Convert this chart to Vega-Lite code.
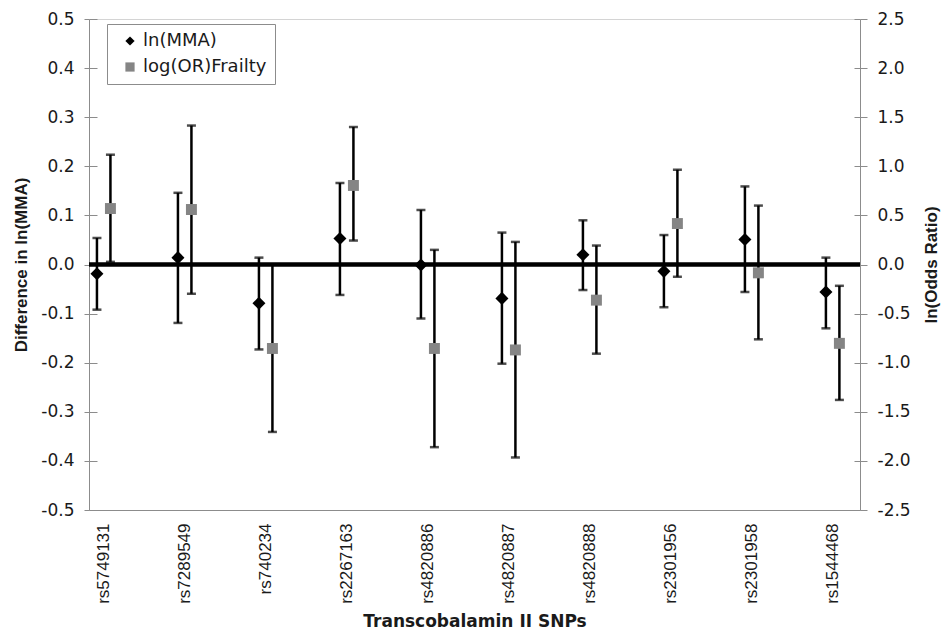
{
  "$schema": "https://vega.github.io/schema/vega-lite/v6.json",
  "width": 771,
  "height": 491,
  "autosize": {"type": "none"},
  "padding": {"left": 89, "top": 19, "right": 83, "bottom": 127},
  "background": "white",
  "config": {
    "font": "Liberation Sans",
    "view": {"stroke": "#d4d4d4", "strokeWidth": 1},
    "axis": {
      "labelFont": "DejaVu Sans",
      "titleFont": "Liberation Sans",
      "labelFontSize": 17,
      "titleFontSize": 17,
      "titleFontWeight": "bold",
      "labelColor": "#1a1a1a",
      "titleColor": "#1a1a1a",
      "domainColor": "#8c8c8c",
      "tickColor": "#8c8c8c",
      "grid": false
    },
    "axisX": {"labelFont": "Liberation Sans", "titleFont": "DejaVu Sans"},
    "legend": {
      "labelFont": "DejaVu Sans",
      "labelFontSize": 18,
      "labelColor": "#1a1a1a"
    }
  },
  "data": {
    "values": [
      {"snp": "rs5749131", "series": "ln(MMA)", "est": -0.019, "lo": -0.092, "hi": 0.054},
      {"snp": "rs7289549", "series": "ln(MMA)", "est": 0.014, "lo": -0.119, "hi": 0.146},
      {"snp": "rs740234", "series": "ln(MMA)", "est": -0.079, "lo": -0.173, "hi": 0.014},
      {"snp": "rs2267163", "series": "ln(MMA)", "est": 0.053, "lo": -0.062, "hi": 0.166},
      {"snp": "rs4820886", "series": "ln(MMA)", "est": -0.001, "lo": -0.110, "hi": 0.111},
      {"snp": "rs4820887", "series": "ln(MMA)", "est": -0.069, "lo": -0.202, "hi": 0.065},
      {"snp": "rs4820888", "series": "ln(MMA)", "est": 0.020, "lo": -0.052, "hi": 0.090},
      {"snp": "rs2301956", "series": "ln(MMA)", "est": -0.014, "lo": -0.087, "hi": 0.060},
      {"snp": "rs2301958", "series": "ln(MMA)", "est": 0.051, "lo": -0.056, "hi": 0.159},
      {"snp": "rs1544468", "series": "ln(MMA)", "est": -0.056, "lo": -0.130, "hi": 0.014},
      {"snp": "rs5749131", "series": "log(OR)Frailty", "est": 0.57, "lo": 0.027, "hi": 1.118},
      {"snp": "rs7289549", "series": "log(OR)Frailty", "est": 0.56, "lo": -0.298, "hi": 1.415},
      {"snp": "rs740234", "series": "log(OR)Frailty", "est": -0.855, "lo": -1.705, "hi": 0.0},
      {"snp": "rs2267163", "series": "log(OR)Frailty", "est": 0.805, "lo": 0.244, "hi": 1.40},
      {"snp": "rs4820886", "series": "log(OR)Frailty", "est": -0.855, "lo": -1.86, "hi": 0.149},
      {"snp": "rs4820887", "series": "log(OR)Frailty", "est": -0.87, "lo": -1.965, "hi": 0.23},
      {"snp": "rs4820888", "series": "log(OR)Frailty", "est": -0.363, "lo": -0.908, "hi": 0.193},
      {"snp": "rs2301956", "series": "log(OR)Frailty", "est": 0.417, "lo": -0.125, "hi": 0.965},
      {"snp": "rs2301958", "series": "log(OR)Frailty", "est": -0.085, "lo": -0.762, "hi": 0.60},
      {"snp": "rs1544468", "series": "log(OR)Frailty", "est": -0.803, "lo": -1.379, "hi": -0.217}
    ]
  },
  "layer": [
    {
      "data": {"values": [{"z": 0}]},
      "mark": {"type": "rule", "color": "black", "strokeWidth": 4},
      "encoding": {
        "y": {"field": "z", "type": "quantitative", "scale": {"domain": [-0.5, 0.5]},
          "axis": {"orient": "left", "title": null, "labels": false, "domain": false, "tickSize": -8, "values": [-0.5, -0.4, -0.3, -0.2, -0.1, 0, 0.1, 0.2, 0.3, 0.4, 0.5]}}
      }
    },
    {
      "data": {"values": [{"z": 0}]},
      "mark": {"type": "rule", "color": "black", "strokeWidth": 4},
      "encoding": {
        "y": {"field": "z", "type": "quantitative", "scale": {"domain": [-2.5, 2.5]},
          "axis": {"orient": "right", "title": null, "labels": false, "domain": false, "tickSize": -6, "values": [-2.5, -2, -1.5, -1, -0.5, 0, 0.5, 1, 1.5, 2, 2.5]}}
      }
    },
    {
      "transform": [{"filter": "datum.series == 'ln(MMA)'"}],
      "encoding": {
        "x": {
          "field": "snp", "type": "nominal", "sort": null,
          "scale": {"type": "band", "paddingInner": 0.667, "paddingOuter": 0.093, "align": 0.08},
          "axis": {"title": "Transcobalamin II SNPs", "labelAngle": -90, "ticks": false, "labelPadding": 13, "titlePadding": 10, "bandPosition": 0.3}
        },
        "xOffset": {
          "field": "series", "type": "nominal",
          "scale": {"domain": ["ln(MMA)", "log(OR)Frailty"], "paddingInner": 0, "paddingOuter": 0}
        }
      },
      "layer": [
        {
          "mark": {"type": "rule", "color": "black", "strokeWidth": 2.5},
          "encoding": {
            "y": {"field": "lo", "type": "quantitative", "scale": {"domain": [-0.5, 0.5]},
              "axis": {"title": "Difference in ln(MMA)", "orient": "left", "values": [-0.5, -0.4, -0.3, -0.2, -0.1, 0, 0.1, 0.2, 0.3, 0.4, 0.5], "labelExpr": "replace(format(datum.value, '.1f'), '\u2212', '-')", "tickSize": 5, "labelPadding": 10, "titlePadding": 10}},
            "y2": {"field": "hi"}
          }
        },
        {
          "mark": {"type": "tick", "color": "black", "size": 9, "thickness": 2.5},
          "encoding": {
            "y": {"field": "lo", "type": "quantitative", "scale": {"domain": [-0.5, 0.5]},
              "axis": {"title": "Difference in ln(MMA)", "orient": "left", "values": [-0.5, -0.4, -0.3, -0.2, -0.1, 0, 0.1, 0.2, 0.3, 0.4, 0.5], "labelExpr": "replace(format(datum.value, '.1f'), '\u2212', '-')", "tickSize": 5, "labelPadding": 10, "titlePadding": 10}}
          }
        },
        {
          "mark": {"type": "tick", "color": "black", "size": 9, "thickness": 2.5},
          "encoding": {
            "y": {"field": "hi", "type": "quantitative", "scale": {"domain": [-0.5, 0.5]},
              "axis": {"title": "Difference in ln(MMA)", "orient": "left", "values": [-0.5, -0.4, -0.3, -0.2, -0.1, 0, 0.1, 0.2, 0.3, 0.4, 0.5], "labelExpr": "replace(format(datum.value, '.1f'), '\u2212', '-')", "tickSize": 5, "labelPadding": 10, "titlePadding": 10}}
          }
        },
        {
          "mark": {"type": "point", "filled": true, "size": 170, "opacity": 1},
          "encoding": {
            "y": {"field": "est", "type": "quantitative", "scale": {"domain": [-0.5, 0.5]},
              "axis": {"title": "Difference in ln(MMA)", "orient": "left", "values": [-0.5, -0.4, -0.3, -0.2, -0.1, 0, 0.1, 0.2, 0.3, 0.4, 0.5], "labelExpr": "replace(format(datum.value, '.1f'), '\u2212', '-')", "tickSize": 5, "labelPadding": 10, "titlePadding": 10}},
            "color": {"field": "series", "type": "nominal", "scale": {"domain": ["ln(MMA)", "log(OR)Frailty"], "range": ["#000000", "#858585"]},
              "legend": {"title": null, "orient": "none", "legendX": 18, "legendY": 5, "strokeColor": "#8c8c8c", "fillColor": "white", "padding": 8, "rowPadding": 8, "symbolSize": 85, "symbolOffset": 6, "labelOffset": 4, "labelExpr": "datum.label + '\u2003'"}},
            "shape": {"field": "series", "type": "nominal", "scale": {"domain": ["ln(MMA)", "log(OR)Frailty"], "range": ["diamond", "square"]},
              "legend": {"title": null, "orient": "none", "legendX": 18, "legendY": 5, "strokeColor": "#8c8c8c", "fillColor": "white", "padding": 8, "rowPadding": 8, "symbolSize": 85, "symbolOffset": 6, "labelOffset": 4, "labelExpr": "datum.label + '\u2003'"}}
          }
        }
      ]
    },
    {
      "transform": [{"filter": "datum.series == 'log(OR)Frailty'"}],
      "encoding": {
        "x": {
          "field": "snp", "type": "nominal", "sort": null,
          "scale": {"type": "band", "paddingInner": 0.667, "paddingOuter": 0.093, "align": 0.08},
          "axis": {"title": "Transcobalamin II SNPs", "labelAngle": -90, "ticks": false, "labelPadding": 13, "titlePadding": 10, "bandPosition": 0.3}
        },
        "xOffset": {
          "field": "series", "type": "nominal",
          "scale": {"domain": ["ln(MMA)", "log(OR)Frailty"], "paddingInner": 0, "paddingOuter": 0}
        }
      },
      "layer": [
        {
          "mark": {"type": "rule", "color": "black", "strokeWidth": 2.5},
          "encoding": {
            "y": {"field": "lo", "type": "quantitative", "scale": {"domain": [-2.5, 2.5]},
              "axis": {"title": "ln(Odds Ratio)", "orient": "right", "titleAngle": -90, "titleBaseline": "top", "values": [-2.5, -2, -1.5, -1, -0.5, 0, 0.5, 1, 1.5, 2, 2.5], "labelExpr": "replace(format(datum.value, '.1f'), '\u2212', '-')", "tickSize": 7, "labelPadding": 10, "titlePadding": 13}},
            "y2": {"field": "hi"}
          }
        },
        {
          "mark": {"type": "tick", "color": "black", "size": 9, "thickness": 2.5},
          "encoding": {
            "y": {"field": "lo", "type": "quantitative", "scale": {"domain": [-2.5, 2.5]},
              "axis": {"title": "ln(Odds Ratio)", "orient": "right", "titleAngle": -90, "titleBaseline": "top", "values": [-2.5, -2, -1.5, -1, -0.5, 0, 0.5, 1, 1.5, 2, 2.5], "labelExpr": "replace(format(datum.value, '.1f'), '\u2212', '-')", "tickSize": 7, "labelPadding": 10, "titlePadding": 13}}
          }
        },
        {
          "mark": {"type": "tick", "color": "black", "size": 9, "thickness": 2.5},
          "encoding": {
            "y": {"field": "hi", "type": "quantitative", "scale": {"domain": [-2.5, 2.5]},
              "axis": {"title": "ln(Odds Ratio)", "orient": "right", "titleAngle": -90, "titleBaseline": "top", "values": [-2.5, -2, -1.5, -1, -0.5, 0, 0.5, 1, 1.5, 2, 2.5], "labelExpr": "replace(format(datum.value, '.1f'), '\u2212', '-')", "tickSize": 7, "labelPadding": 10, "titlePadding": 13}}
          }
        },
        {
          "mark": {"type": "point", "filled": true, "size": 120, "opacity": 1},
          "encoding": {
            "y": {"field": "est", "type": "quantitative", "scale": {"domain": [-2.5, 2.5]},
              "axis": {"title": "ln(Odds Ratio)", "orient": "right", "titleAngle": -90, "titleBaseline": "top", "values": [-2.5, -2, -1.5, -1, -0.5, 0, 0.5, 1, 1.5, 2, 2.5], "labelExpr": "replace(format(datum.value, '.1f'), '\u2212', '-')", "tickSize": 7, "labelPadding": 10, "titlePadding": 13}},
            "color": {"field": "series", "type": "nominal", "scale": {"domain": ["ln(MMA)", "log(OR)Frailty"], "range": ["#000000", "#858585"]},
              "legend": {"title": null, "orient": "none", "legendX": 18, "legendY": 5, "strokeColor": "#8c8c8c", "fillColor": "white", "padding": 8, "rowPadding": 8, "symbolSize": 85, "symbolOffset": 6, "labelOffset": 4, "labelExpr": "datum.label + '\u2003'"}},
            "shape": {"field": "series", "type": "nominal", "scale": {"domain": ["ln(MMA)", "log(OR)Frailty"], "range": ["diamond", "square"]},
              "legend": {"title": null, "orient": "none", "legendX": 18, "legendY": 5, "strokeColor": "#8c8c8c", "fillColor": "white", "padding": 8, "rowPadding": 8, "symbolSize": 85, "symbolOffset": 6, "labelOffset": 4, "labelExpr": "datum.label + '\u2003'"}}
          }
        }
      ]
    }
  ],
  "resolve": {"scale": {"y": "independent"}}
}
